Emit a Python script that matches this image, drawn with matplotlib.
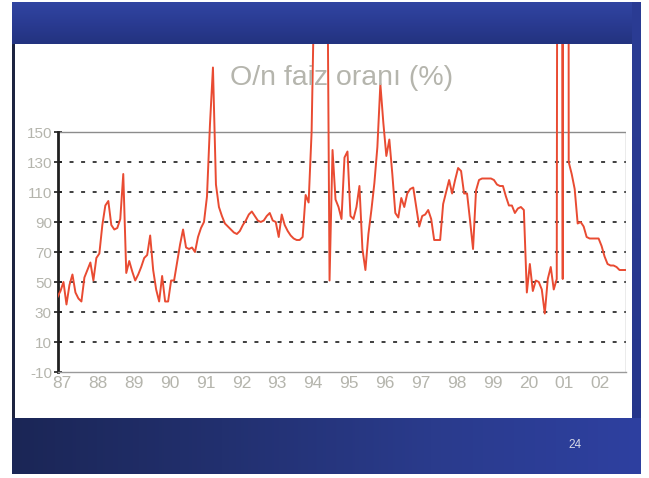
import matplotlib
matplotlib.use("Agg")
import matplotlib.pyplot as plt
import numpy as np
from matplotlib.patches import Rectangle
from matplotlib.colors import LinearSegmentedColormap

# Monthly overnight interest rate (%), Jan 1987 - Nov 2002
rates = [
    40, 44, 50, 35, 48, 55, 43, 39, 37, 53,
    58, 63, 51, 66, 69, 88, 101, 104, 88, 85,
    86, 92, 122, 56, 64, 57, 51, 55, 60, 66,
    68, 81, 58, 45, 37, 54, 37, 37, 51, 51,
    63, 75, 85, 73, 72, 73, 70, 80, 86, 90,
    107, 155, 193, 115, 100, 94, 89, 87, 85, 83,
    82, 84, 88, 91, 95, 97, 94, 91, 90, 91,
    94, 96, 91, 90, 80, 95, 88, 84, 81, 79,
    78, 78, 80, 108, 103, 150, 260, 700, 450, 320,
    350, 51, 138, 105, 100, 92, 133, 137, 94, 92,
    100, 114, 72, 58, 82, 98, 116, 140, 182, 156,
    134, 145, 122, 96, 93, 106, 100, 109, 112, 113,
    100, 87, 94, 95, 98, 92, 78, 78, 78, 102,
    110, 118, 109, 118, 126, 124, 109, 109, 91, 72,
    111, 118, 119, 119, 119, 119, 118, 115, 114, 114,
    107, 101, 101, 96, 99, 100, 98, 43, 62, 44,
    51, 50, 45, 29, 52, 60, 45, 52, 1500, 52,
    5000, 130, 122, 112, 89, 90, 87, 80, 79, 79,
    79, 79, 74, 67, 62, 61, 61, 60, 58, 58,
    58,
]
months = list(range(len(rates)))

year_labels = ["87", "88", "89", "90", "91", "92", "93", "94",
               "95", "96", "97", "98", "99", "20", "01", "02"]
y_ticks = [-10, 10, 30, 50, 70, 90, 110, 130, 150]
y_tick_labels = ["-10", "10", "30", "50", "70", "90", "110", "130", "150"]
title = "O/n faiz oranı (%)"
page_number = "24"

W, H = 649, 478
fig = plt.figure(figsize=(W / 100, H / 100), dpi=100)
fig.patch.set_facecolor("white")


def px_axes(x0, y0, x1, y1, z=0):
    a = fig.add_axes([x0 / W, 1 - y1 / H, (x1 - x0) / W, (y1 - y0) / H], zorder=z)
    a.set_axis_off()
    return a


def gradient_band(x0, y0, x1, y1, colors, horizontal=True, z=0):
    a = px_axes(x0, y0, x1, y1, z)
    cmap = LinearSegmentedColormap.from_list("band", colors)
    g = np.linspace(0, 1, 256)
    img = g[None, :] if horizontal else g[:, None]
    a.imshow(img, cmap=cmap, aspect="auto", extent=(0, 1, 0, 1), interpolation="bilinear")
    return a


# slide frame: blue bands round a white panel
gradient_band(12, 2, 641, 44, ["#3145a2", "#2a3b92", "#23337f"], horizontal=False)
gradient_band(632, 2, 641, 474, ["#2b3c94", "#25358a"], horizontal=False)
gradient_band(12, 418, 641, 474, ["#1b2656", "#22306f", "#2a3b8c", "#2e40a0"], horizontal=True)
panel_edge = px_axes(12, 44, 15, 418)
panel_edge.add_patch(Rectangle((0, 0), 1, 1, color="#1d2340"))

fonts = ["Liberation Sans Narrow", "Liberation Sans", "DejaVu Sans"]
grey = "#b5b5ad"

# axes: bottom at -10, top edge at the panel's upper border
ax_left, ax_right = 57.5, 625.5
ax_bottom, ax_top = 372.0, 44.0
px_per_unit = 30.0 / 20.0
ymax = 150 + (132 - ax_top) / px_per_unit
ax = fig.add_axes([ax_left / W, 1 - ax_bottom / H,
                   (ax_right - ax_left) / W, (ax_bottom - ax_top) / H], zorder=5)
ax.set_facecolor("none")
ax.set_xlim(0, len(rates) - 1)
ax.set_ylim(-10, ymax)

for s in ["top", "right"]:
    ax.spines[s].set_visible(False)
ax.spines["left"].set_bounds(-10, 150)
ax.spines["left"].set_linewidth(2.0)
ax.spines["left"].set_color("#202020")
ax.spines["bottom"].set_color("#9a9a9a")
ax.spines["bottom"].set_linewidth(1.0)

# plot-area frame at 150 and on the right
ax.hlines(150, 0, len(rates) - 1, color="#8c8c8c", lw=1.0, zorder=2)
ax.vlines(len(rates) - 1, -10, 150, color="#9a9a9a", lw=1.0, zorder=2)

# dotted gridlines
for g in [10, 30, 50, 70, 90, 110, 130]:
    ax.axhline(g, color="#303030", lw=1.3, linestyle=(0, (2.2, 4.2)), zorder=1)

ax.plot(months, rates, color="#e94b32", lw=1.4, zorder=3, solid_joinstyle="round")

ax.set_yticks(y_ticks)
ax.set_yticklabels(y_tick_labels)
ax.tick_params(axis="y", direction="inout", length=6, width=1.2, color="#202020",
               labelcolor=grey, labelsize=11, pad=1)
for t in ax.get_yticklabels():
    t.set_family(fonts)

ax.set_xticks([12 * k + 1.5 for k in range(len(year_labels))])
ax.set_xticklabels(year_labels)
ax.tick_params(axis="x", length=0, labelcolor=grey, labelsize=12.5, pad=3)
for t in ax.get_xticklabels():
    t.set_family(fonts)

fig.text(342 / W, 1 - 78 / H, title, ha="center", va="center", color=grey,
         fontsize=20.5, family=fonts, zorder=10)
fig.text(575 / W, 1 - 445 / H, page_number, ha="center", va="center",
         color="#d8dbe8", fontsize=8.5, family=["Liberation Sans", "DejaVu Sans"], zorder=10)

fig.savefig("out.png", dpi=100, facecolor=fig.get_facecolor())
